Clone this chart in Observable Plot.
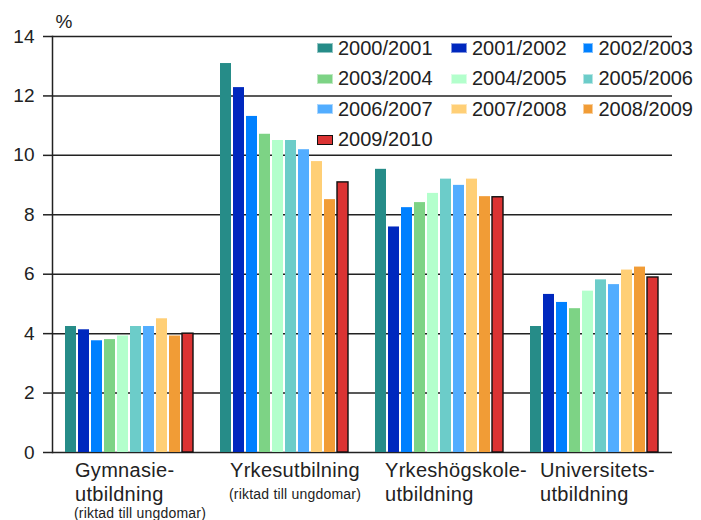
<!DOCTYPE html>
<html><head><meta charset="utf-8">
<script src="https://cdn.jsdelivr.net/npm/d3@7"></script>
<script src="https://cdn.jsdelivr.net/npm/@observablehq/plot@0.6"></script>
<style>
html,body{margin:0;padding:0;background:#fff;overflow:hidden}
#wrap{position:relative;width:701px;height:520px;font-family:"Liberation Sans",Arial,sans-serif}
#legend{position:absolute;left:317px;top:33px;display:grid;grid-template-columns:134px 132px 110px;grid-auto-rows:30.5px;align-items:center;font-size:20px;color:#222}
.item{display:flex;align-items:center;white-space:nowrap}
.sw{width:16px;height:10px;margin-right:5px;box-sizing:border-box;border:1px solid rgba(255,255,255,0.5)}
.catlab{letter-spacing:0.3px}
.sublab{letter-spacing:0.2px}
</style></head><body><div id="wrap"><div id="legend"></div></div>
<script>
const categories = ["Gymnasieutbildning", "Yrkesutbildning", "Yrkeshögskoleutbildning", "Universitetsutbildning"];
const labels = ["Gymnasie-\nutbildning", "Yrkesutbilning", "Yrkeshögskole-\nutbildning", "Universitets-\nutbildning"];
const subLabels = ["(riktad till ungdomar)", "(riktad till ungdomar)", "", ""];
const years = ["2000/2001","2001/2002","2002/2003","2003/2004","2004/2005","2005/2006","2006/2007","2007/2008","2008/2009","2009/2010"];
const colors = ["#268C88","#0028BE","#0080FF","#7DD385","#B3FFCC","#6CCCC9","#52ADFF","#FFCF76","#F19C36","#DB3333"];
const gymnasie = [4.24, 4.13, 3.76, 3.80, 3.92, 4.24, 4.24, 4.50, 3.92, 4.00];
const yrkesutb = [13.09, 12.28, 11.31, 10.71, 10.50, 10.50, 10.19, 9.79, 8.51, 9.09];
const yrkeshogskole = [9.53, 7.59, 8.24, 8.41, 8.72, 9.20, 8.99, 9.20, 8.61, 8.59];
const universitet = [4.24, 5.32, 5.05, 4.84, 5.43, 5.81, 5.65, 6.14, 6.24, 5.89];
const yTicks = [0, 2, 4, 6, 8, 10, 12, 14];

const series = [gymnasie, yrkesutb, yrkeshogskole, universitet];
const data = categories.flatMap((c, ci) => years.map((y, yi) => ({cat: c, year: y, value: series[ci][yi]})));
const catRows = categories.map((c, i) => ({cat: c, label: labels[i], sub: "\n".repeat(labels[i].split("\n").length - 1) + subLabels[i]}));
const lastYear = years[years.length - 1];

const chart = Plot.plot({
  width: 701, height: 520,
  marginLeft: 52, marginRight: 29, marginTop: 36, marginBottom: 68,
  style: {fontFamily: '"Liberation Sans", Arial, sans-serif', fontSize: "19px", color: "#222", background: "#fff"},
  fx: {domain: categories, paddingInner: 0, paddingOuter: 0, axis: null, label: null},
  x: {domain: years, paddingInner: 0.15, paddingOuter: 1, axis: null},
  y: {domain: [0, 14], axis: null},
  color: {domain: years, range: colors},
  marks: [
    Plot.gridY(yTicks, {stroke: "#222", strokeOpacity: 1, strokeWidth: 1.5}),
    Plot.barY(data, {fx: "cat", x: "year", y: "value", fill: "year",
      stroke: d => d.year === lastYear ? "#111" : "none", strokeWidth: 1.4}),
    Plot.axisY(yTicks, {tickSize: 9, tickPadding: 9, label: null, fontSize: 19, strokeWidth: 1.5, stroke: "#222", fill: "#222"}),
    Plot.frame({anchor: "left", facetAnchor: "left", stroke: "#222", strokeWidth: 1.5}),
    Plot.text(["%"], {text: d => d, frameAnchor: "top-left", facetAnchor: "left", textAnchor: "start", lineAnchor: "bottom", dx: 3, dy: -9, fontSize: 19, fill: "#222"}),
    Plot.text(catRows, {fx: "cat", text: "label", frameAnchor: "bottom", lineAnchor: "top", textAnchor: "start", dy: 7, dx: -55, fontSize: 20, lineHeight: 1.2, fill: "#222", className: "catlab"}),
    Plot.text(catRows, {fx: "cat", text: "sub", frameAnchor: "bottom", lineAnchor: "top", textAnchor: "start", dy: 33, dx: -56, fontSize: 14, lineHeight: 1.36, fill: "#222", className: "sublab"})
  ]
});
const wrap = document.getElementById("wrap");
wrap.insertBefore(chart, wrap.firstChild);

const legend = document.getElementById("legend");
years.forEach((y, i) => {
  const item = document.createElement("div");
  item.className = "item";
  const sw = document.createElement("span");
  sw.className = "sw";
  sw.style.background = colors[i];
  if (y === lastYear) sw.style.border = "1.5px solid #111";
  const t = document.createElement("span");
  t.textContent = y;
  item.appendChild(sw); item.appendChild(t);
  legend.appendChild(item);
});
</script></body></html>
